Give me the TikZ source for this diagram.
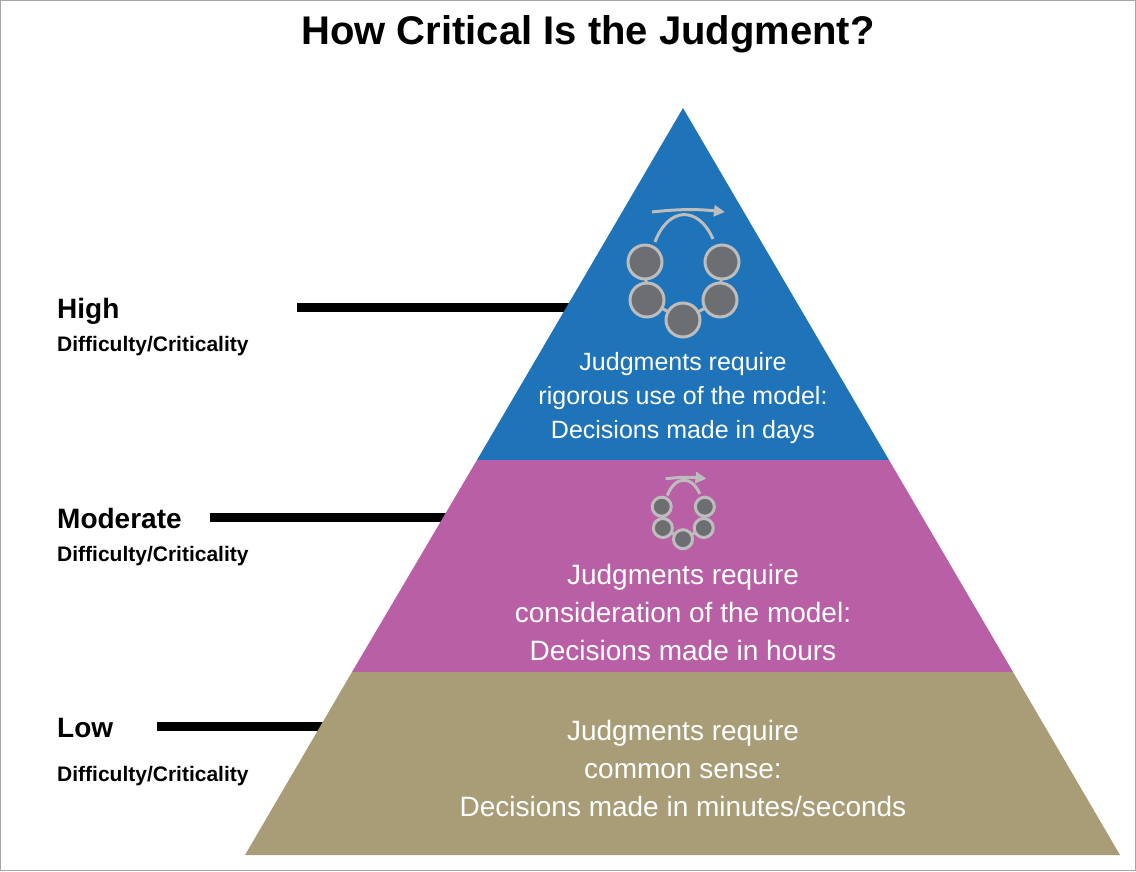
\documentclass[tikz,border=0pt]{standalone}
\usepackage{fontspec}
\setmainfont{Liberation Sans}
\usetikzlibrary{arrows.meta}
\definecolor{cblue}{HTML}{1F73B9}
\definecolor{cpink}{HTML}{B85FA5}
\definecolor{ctan}{HTML}{A89D77}
\definecolor{cdot}{HTML}{6D6E71}
\definecolor{crim}{HTML}{BDBDBD}
\tikzset{
 lvl/.style={line width=9pt,black},
 lab/.style={anchor=base west,font=\bfseries\fontsize{28}{30}\selectfont,inner sep=0},
 sub/.style={anchor=base west,font=\bfseries\fontsize{21}{24}\selectfont,inner sep=0},
 wt/.style={text=white,align=center,inner sep=0},
 dot/.style={circle,fill=cdot,draw=crim,line width=3pt,minimum size=34pt,inner sep=0},
 pics/cycle/.style={code={
  \draw[crim,line width=3pt] (-38,-13) -- (-36,25) -- (0,45) -- (37,25) -- (39,-13);
  \node[dot] (p1) at (-38,-13) {};
  \node[dot] (p2) at (39,-13) {};
  \node[dot] (p3) at (-36,25) {};
  \node[dot] (p4) at (37,25) {};
  \node[dot] (p5) at (0,45) {};
  \draw[crim,line width=3pt] (-28,-33) .. controls (-15,-68) and (15,-70) .. (30,-36);
  \draw[crim,line width=3pt,-{Triangle[length=11pt,width=11pt]}] (-31,-63) .. controls (-5,-66) and (15,-66) .. (42,-63);
 }}
}
\begin{document}
\begin{tikzpicture}[x=1pt,y=-1pt]
\useasboundingbox (0,0) rectangle (1136,871);
\draw[gray!70,line width=1pt] (0.5,0.5) rectangle (1135.5,870.5);
\node[font=\bfseries\fontsize{40}{44}\selectfont,anchor=base] (title) at (588,44) {How Critical Is the Judgment?};
% level lines
\coordinate (h1) at (297,307); \coordinate (h2) at (580,307);
\coordinate (m1) at (210,517); \coordinate (m2) at (460,517);
\coordinate (l1) at (157,726); \coordinate (l2) at (335,726);
\draw[lvl] (h1) -- (h2);
\draw[lvl] (m1) -- (m2);
\draw[lvl] (l1) -- (l2);
% pyramid
\coordinate (A) at (683,108);
\fill[cblue] (A) -- (889,460) -- (477,460) -- cycle;
\fill[cpink] (477,460) -- (889,460) -- (1013,672) -- (352,672) -- cycle;
\fill[ctan] (352,672) -- (1013,672) -- (1120,855) -- (245,855) -- cycle;
% icons
\pic at (683,275) {cycle};
\pic[scale=0.56,transform shape] at (683,514) {cycle};
% texts
\node[wt,font=\fontsize{25}{34}\selectfont] (t1) at (683,398) {Judgments require\\rigorous use of the model:\\Decisions made in days};
\node[wt,font=\fontsize{28}{38}\selectfont] (t2) at (683,612) {Judgments require\\consideration of the model:\\Decisions made in hours};
\node[wt,font=\fontsize{28}{38}\selectfont] (t3) at (683,768) {Judgments require\\common sense:\\Decisions made in minutes/seconds};
% labels
\node[lab] (hl) at (57,318) {High};
\node[sub] (hs) at (57,351) {Difficulty/Criticality};
\node[lab] (ml) at (57,528) {Moderate};
\node[sub] (ms) at (57,561) {Difficulty/Criticality};
\node[lab] (ll) at (57,737) {Low};
\node[sub] (ls) at (57,781) {Difficulty/Criticality};
\end{tikzpicture}
\end{document}
